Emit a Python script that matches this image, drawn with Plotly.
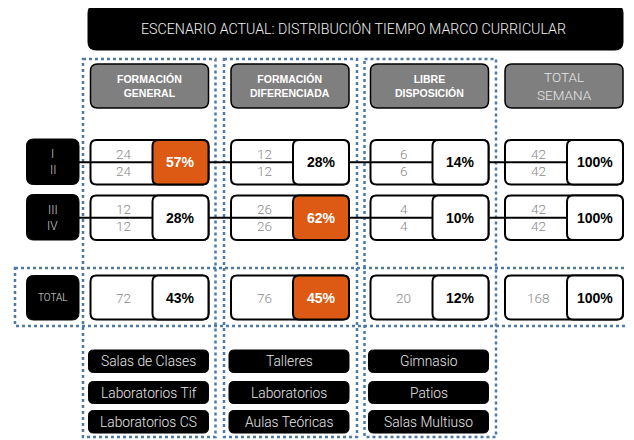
import plotly.graph_objects as go

# ---------------- data ----------------
title = "ESCENARIO ACTUAL: DISTRIBUCIÓN TIEMPO MARCO CURRICULAR"
categories = ["FORMACIÓN<br>GENERAL", "FORMACIÓN<br>DIFERENCIADA", "LIBRE<br>DISPOSICIÓN", "TOTAL<br>SEMANA"]
row_labels = [["I", "II"], ["III", "IV"]]
hours_I = [24, 12, 6, 42]
hours_II = [24, 12, 6, 42]
hours_III = [12, 26, 4, 42]
hours_IV = [12, 26, 4, 42]
pct_I_II = [57, 28, 14, 100]
pct_III_IV = [28, 62, 10, 100]
total_label = "TOTAL"
total_hours = [72, 76, 20, 168]
total_pct = [43, 45, 12, 100]
rooms_general = ["Salas de Clases", "Laboratorios Tif", "Laboratorios CS"]
rooms_diferenciada = ["Talleres", "Laboratorios", "Aulas Teóricas"]
rooms_libre = ["Gimnasio", "Patios", "Salas Multiuso"]

# ---------------- style / layout ----------------
W, H = 634, 440
OFF = 8  # page body margin compensation
ORANGE = "#DC5A14"
GREY = "#7f7f7f"
DOT = "#4f7aa6"
LIGHT = "Roboto"
BOLD = "Liberation Sans"

col_x = [90.5, 231.0, 370.5, 505.0]
cell_w = 118.0
pct_w = 56.0
head_y = (64, 108)
row_y = [(140, 184.5), (195.5, 240)]
tot_y = (275.5, 319.5)
lab_x = (26.5, 79.0)
room_y = [(350, 372.5), (381.5, 403.5), (410.5, 433)]


def rr(x0, y0, x1, y1, r=6):
    return (f"M {x0+r},{y0} L {x1-r},{y0} Q {x1},{y0} {x1},{y0+r} "
            f"L {x1},{y1-r} Q {x1},{y1} {x1-r},{y1} L {x0+r},{y1} "
            f"Q {x0},{y1} {x0},{y1-r} L {x0},{y0+r} Q {x0},{y0} {x0+r},{y0} Z")


shapes = []
ann = []


def box(x0, y0, x1, y1, fill, lw=2, r=6, color="black"):
    shapes.append(dict(type="path", path=rr(x0, y0, x1, y1, r), fillcolor=fill,
                       line=dict(color=color, width=lw), layer="above"))


def text(x, y, s, size, color, family=LIGHT, weight=300):
    ann.append(dict(x=x, y=y, text=s, showarrow=False, xanchor="center", yanchor="middle",
                    font=dict(size=size, color=color, family=family, weight=weight)))


# dotted frames
for x0, x1 in [(83, 215.5), (224, 357), (364.5, 496)]:
    shapes.append(dict(type="rect", x0=x0, x1=x1, y0=59, y1=437, fillcolor="rgba(0,0,0,0)",
                       line=dict(color=DOT, width=2.5, dash="dot"), layer="above"))
shapes.append(dict(type="rect", x0=15, x1=630, y0=268, y1=326, fillcolor="rgba(0,0,0,0)",
                   line=dict(color=DOT, width=2.5, dash="dot"), layer="above"))

# title
box(88, 5, 623, 50, "black", lw=1, r=8)
text(353, 28, title, 14.2, "#f0f0f0")

# headers
for i, c in enumerate(categories):
    box(col_x[i], head_y[0], col_x[i] + cell_w, head_y[1], GREY, lw=1.5, r=7)
    if i < 3:
        text(col_x[i] + cell_w / 2, 86, f"<b>{c}</b>", 10.5, "white", family=BOLD, weight=700)
    else:
        text(col_x[i] + cell_w / 2, 86, c, 13.5, "#e6e6e6")

# level rows
rows = [(hours_I, hours_II, pct_I_II), (hours_III, hours_IV, pct_III_IV)]
for r_i, (top, bot, pct) in enumerate(rows):
    y0, y1 = row_y[r_i]
    ym = (y0 + y1) / 2
    box(lab_x[0], y0 - 1, lab_x[1], y1, "black", lw=1, r=7)
    text((lab_x[0] + lab_x[1]) / 2, ym - 8, row_labels[r_i][0], 12, "#cfcfcf")
    text((lab_x[0] + lab_x[1]) / 2, ym + 8, row_labels[r_i][1], 12, "#cfcfcf")
    hi = max(range(3), key=lambda k: pct[k])
    for i in range(4):
        box(col_x[i], y0, col_x[i] + cell_w, y1, "white")
    shapes.append(dict(type="line", x0=lab_x[1], x1=col_x[3] + cell_w - pct_w, y0=ym, y1=ym,
                       line=dict(color="black", width=2), layer="above"))
    for i in range(4):
        px0 = col_x[i] + cell_w - pct_w
        fill = ORANGE if i == hi else "white"
        box(px0, y0, col_x[i] + cell_w, y1, fill)
        nx = (col_x[i] + px0) / 2 + 2
        text(nx, ym - 8.5, str(top[i]), 13.5, "#8a8a8a")
        text(nx, ym + 8.5, str(bot[i]), 13.5, "#8a8a8a")
        text(px0 + pct_w / 2, ym, f"<b>{pct[i]}%</b>", 14, "white" if i == hi else "black",
             family=BOLD, weight=700)

# total row
y0, y1 = tot_y
ym = (y0 + y1) / 2
box(lab_x[0], y0, lab_x[1], y1 + 0.5, "black", lw=1, r=7)
text((lab_x[0] + lab_x[1]) / 2, ym, total_label, 10, "#e0e0e0")
hi = max(range(3), key=lambda k: total_pct[k])
for i in range(4):
    box(col_x[i], y0, col_x[i] + cell_w, y1, "white")
    px0 = col_x[i] + cell_w - pct_w
    box(px0, y0, col_x[i] + cell_w, y1, ORANGE if i == hi else "white")
    text((col_x[i] + px0) / 2 + 2, ym, str(total_hours[i]), 13.5, "#8a8a8a")
    text(px0 + pct_w / 2, ym, f"<b>{total_pct[i]}%</b>", 14, "white" if i == hi else "black",
         family=BOLD, weight=700)

# rooms
for i, rooms in enumerate([rooms_general, rooms_diferenciada, rooms_libre]):
    for j, name in enumerate(rooms):
        ry0, ry1 = room_y[j]
        box(col_x[i] - 2, ry0, col_x[i] + cell_w, ry1, "black", lw=1, r=5)
        text(col_x[i] + cell_w / 2 - 1, (ry0 + ry1) / 2, name, 13.8, "#e8e8e8")

fig = go.Figure()
fig.update_layout(
    width=W, height=H, margin=dict(l=0, r=0, t=0, b=0),
    paper_bgcolor="white", plot_bgcolor="white",
    xaxis=dict(range=[OFF, W + OFF], visible=False, fixedrange=True),
    yaxis=dict(range=[H + OFF, OFF], visible=False, fixedrange=True),
    shapes=shapes, annotations=ann, showlegend=False,
)
fig.write_html("out.html")
